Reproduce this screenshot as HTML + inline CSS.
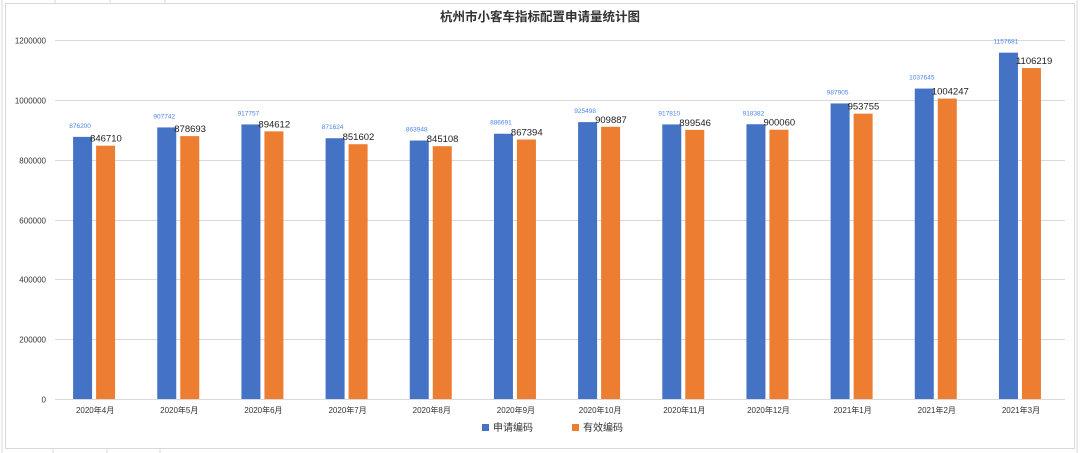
<!DOCTYPE html><html><head><meta charset="utf-8"><style>body{margin:0;background:#fff}svg{display:block}</style></head><body>
<svg width="1080" height="453" xmlns="http://www.w3.org/2000/svg" font-family="Liberation Sans, Noto Sans CJK SC, sans-serif">
<rect width="1080" height="453" fill="#fff"/>
<g stroke="#d9d9d9" stroke-width="1">
<line x1="2" y1="0" x2="2" y2="453"/><line x1="1077" y1="0" x2="1077" y2="453"/>
<line x1="55" y1="0" x2="55" y2="3"/><line x1="110" y1="0" x2="110" y2="3"/><line x1="165" y1="0" x2="165" y2="3"/>
<line x1="53" y1="449" x2="53" y2="453"/><line x1="107" y1="449" x2="107" y2="453"/><line x1="160" y1="449" x2="160" y2="453"/>
</g>
<rect x="5.5" y="3.5" width="1069" height="445" fill="#fff" stroke="#d9d9d9"/>
<text x="540" y="21" text-anchor="middle" font-size="12.5" font-weight="bold" fill="#333">杭州市小客车指标配置申请量统计图</text>
<g font-size="11" fill="#333">
<rect x="482" y="424" width="7" height="7" fill="#4472c4"/><text x="493" y="431" font-size="10">申请编码</text>
<rect x="572" y="424" width="7" height="7" fill="#ed7d31"/><text x="583" y="431" font-size="10">有效编码</text>
</g>
<script>
var a=[876200,907742,917757,871624,863948,886691,925498,917810,918382,987905,1037645,1157681];
var b=[846710,878693,894612,851602,845108,867394,909887,899546,900060,953755,1004247,1106219];
var m=['2020年4月','2020年5月','2020年6月','2020年7月','2020年8月','2020年9月','2020年10月','2020年11月','2020年12月','2021年1月','2021年2月','2021年3月'];
var ns='http://www.w3.org/2000/svg',svg=document.querySelector('svg');
function el(t,o,txt){var e=document.createElementNS(ns,t);for(var k in o)e.setAttribute(k,o[k]);if(txt!=null)e.textContent=txt;svg.appendChild(e);return e;}
function Y(v){return 399-v*359/1200000;}
for(var i=0;i<=6;i++){var y=Math.round(Y(i*200000))+0.5;el('line',{x1:55,x2:1065,y1:y,y2:y,stroke:'#d9d9d9'});el('text',{x:46,y:y+3,'text-anchor':'end','font-size':'8',fill:'#333'},String(i*200000));}
var w=84.17;
for(var i=0;i<12;i++){var c=55+w*(i+0.5);
el('rect',{x:c-24,y:Y(a[i]),width:19,height:399-Y(a[i]),fill:'#4472c4'});
el('rect',{x:c-1,y:Y(b[i]),width:19,height:399-Y(b[i]),fill:'#ed7d31'});
el('text',{x:c-17,y:Y(a[i])-9,'text-anchor':'middle','font-size':'6.5',fill:'#4a86e8'},String(a[i]));
el('text',{x:c-7,y:Y(b[i])-4,'font-size':'9.5',fill:'#222'},String(b[i]));
el('text',{x:c-2,y:413,'text-anchor':'middle','font-size':'8',fill:'#333'},m[i]);}
</script>
</svg></body></html>
